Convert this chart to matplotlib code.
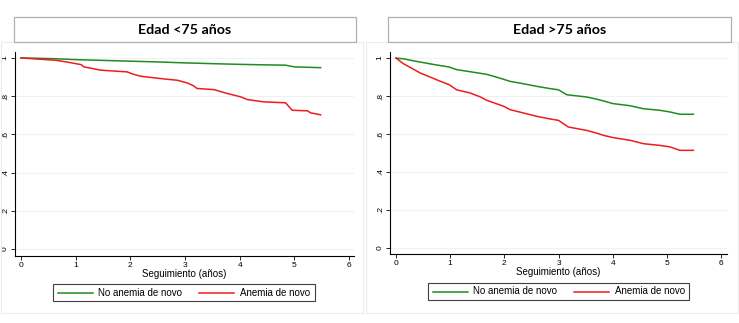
import matplotlib.pyplot as plt
from matplotlib.patches import Rectangle
from matplotlib.lines import Line2D

plt.rcParams["font.family"] = ["Liberation Sans", "DejaVu Sans"]

# Kaplan-Meier style curves
t_lt75_no = [0, 0.6, 1.0, 1.5, 2.0, 2.5, 3.0, 3.5, 3.9, 4.4, 4.84, 5.0, 5.48]
s_lt75_no = [1.0, 0.996, 0.991, 0.987, 0.983, 0.979, 0.974, 0.970, 0.967, 0.964, 0.962, 0.953, 0.949]
t_lt75_an = [0, 0.3, 0.63, 0.85, 1.0, 1.1, 1.15, 1.3, 1.45, 1.94, 2.05, 2.19, 2.55, 2.86, 3.04, 3.15, 3.22,
             3.53, 3.65, 3.77, 4.02, 4.14, 4.44, 4.84, 4.9, 4.96, 5.24, 5.3, 5.36, 5.48]
s_lt75_an = [1.0, 0.994, 0.988, 0.978, 0.970, 0.965, 0.953, 0.945, 0.936, 0.927, 0.915, 0.904, 0.892, 0.883,
             0.869, 0.855, 0.840, 0.834, 0.824, 0.814, 0.796, 0.782, 0.770, 0.765, 0.745, 0.726, 0.723,
             0.712, 0.709, 0.702]

t_gt75_no = [0, 0.14, 0.3, 0.45, 0.7, 0.98, 1.12, 1.37, 1.55, 1.68, 1.85, 1.99, 2.11, 2.35, 2.6, 2.85,
             3.0, 3.15, 3.52, 3.7, 3.83, 4.01, 4.32, 4.57, 4.87, 5.06, 5.24, 5.49]
s_gt75_no = [1.0, 0.996, 0.987, 0.979, 0.966, 0.953, 0.939, 0.928, 0.920, 0.914, 0.900, 0.888, 0.877,
             0.865, 0.851, 0.839, 0.833, 0.807, 0.795, 0.784, 0.774, 0.760, 0.749, 0.733, 0.725, 0.716,
             0.704, 0.704]
t_gt75_an = [0, 0.14, 0.3, 0.45, 0.63, 0.8, 0.98, 1.12, 1.37, 1.56, 1.68, 1.85, 1.99, 2.11, 2.35, 2.6,
             2.85, 3.0, 3.18, 3.52, 3.7, 3.83, 4.01, 4.32, 4.57, 4.87, 5.06, 5.24, 5.49]
s_gt75_an = [1.0, 0.970, 0.945, 0.921, 0.900, 0.880, 0.860, 0.833, 0.816, 0.795, 0.777, 0.760, 0.746,
             0.728, 0.711, 0.693, 0.679, 0.672, 0.637, 0.619, 0.605, 0.593, 0.581, 0.567, 0.549, 0.540,
             0.532, 0.514, 0.514]

titles = ["Edad <75 años", "Edad >75 años"]
legend_labels = ["No anemia de novo", "Anemia de novo"]
yticks = [0, 0.2, 0.4, 0.6, 0.8, 1.0]
ytick_labels = ["0", ".2", ".4", ".6", ".8", "1"]
xticks = [0, 1, 2, 3, 4, 5, 6]

green = "#1e8c1e"
red = "#ee1c1c"

W, H = 739, 323
fig = plt.figure(figsize=(W / 100, H / 100), dpi=100)

def fx(px):
    return px / W

def fy(py):
    return 1 - py / H

panels = [
    # axes box (px), title box (px), outer panel (px), legend box (px)
    dict(ax=(15, 52, 354, 256), xlim=(-0.11, 6.09), ylim=(-0.037, 1.031),
         title=(14, 17, 356, 42), outer=(1, 42, 363, 313), leg=(53, 284, 315, 301),
         data=(t_lt75_no, s_lt75_no, t_lt75_an, s_lt75_an), xlab_y=274),
    dict(ax=(390, 52, 727, 254), xlim=(-0.11, 6.11), ylim=(-0.032, 1.032),
         title=(388, 17, 731, 42), outer=(366, 42, 738, 313), leg=(428, 283, 689, 300),
         data=(t_gt75_no, s_gt75_no, t_gt75_an, s_gt75_an), xlab_y=272),
]

for i, p in enumerate(panels):
    # faint outer panel frame
    x0, y0, x1, y1 = p["outer"]
    fig.patches.append(Rectangle((fx(x0), fy(y1)), fx(x1) - fx(x0), fy(y0) - fy(y1),
                                 transform=fig.transFigure, fill=False, edgecolor="#ececec", lw=0.8))
    # title box
    x0, y0, x1, y1 = p["title"]
    fig.patches.append(Rectangle((fx(x0), fy(y1)), fx(x1) - fx(x0), fy(y0) - fy(y1),
                                 transform=fig.transFigure, fill=False, edgecolor="#b0b0b0", lw=0.9))
    fig.text(fx((x0 + x1) / 2), fy((y0 + y1) / 2), titles[i], ha="center", va="center",
             fontsize=10.3, fontweight="bold", family="Lato")

    x0, y0, x1, y1 = p["ax"]
    ax = fig.add_axes([fx(x0), fy(y1), fx(x1) - fx(x0), fy(y0) - fy(y1)])
    t1, s1, t2, s2 = p["data"]
    ax.plot(t1, s1, color=green, lw=1.1)
    ax.plot(t2, s2, color=red, lw=1.1)
    ax.set_xlim(*p["xlim"])
    ax.set_ylim(*p["ylim"])
    ax.set_xticks(xticks)
    ax.set_xticklabels([str(v) for v in xticks], fontsize=6)
    ax.set_yticks(yticks)
    ax.set_yticklabels(ytick_labels, fontsize=6, rotation=90, va="center")
    ax.tick_params(length=3, width=0.6, pad=1.5)
    for s in ["top", "right"]:
        ax.spines[s].set_visible(False)
    for s in ["left", "bottom"]:
        ax.spines[s].set_linewidth(0.8)
    ax.grid(axis="y", color="#eef2f2", lw=0.8)
    ax.set_axisbelow(True)
    fig.text(fx((x0 + x1) / 2), fy(p["xlab_y"]), "Seguimiento (años)", ha="center", va="center",
             fontsize=7)

    # legend box
    lx0, ly0, lx1, ly1 = p["leg"]
    fig.patches.append(Rectangle((fx(lx0), fy(ly1)), fx(lx1) - fx(lx0), fy(ly0) - fy(ly1),
                                 transform=fig.transFigure, fill=False, edgecolor="#404040", lw=0.8))
    ym = fy((ly0 + ly1) / 2)
    fig.lines.append(Line2D([fx(lx0 + 5), fx(lx0 + 40)], [ym, ym], transform=fig.transFigure,
                            color=green, lw=1.1))
    fig.text(fx(lx0 + 45), ym, legend_labels[0], ha="left", va="center", fontsize=7)
    fig.lines.append(Line2D([fx(lx0 + 146), fx(lx0 + 181)], [ym, ym], transform=fig.transFigure,
                            color=red, lw=1.1))
    fig.text(fx(lx0 + 187), ym, legend_labels[1], ha="left", va="center", fontsize=7)

fig.savefig("out.png", dpi=100)
